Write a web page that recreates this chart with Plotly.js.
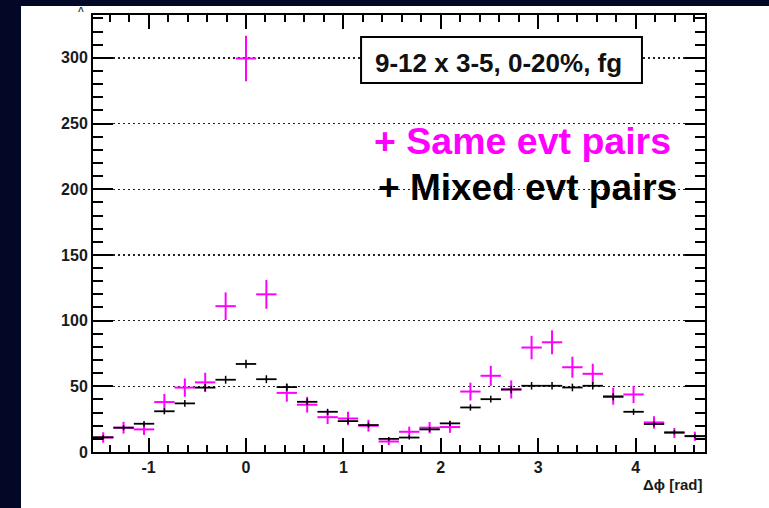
<!DOCTYPE html>
<html>
<head>
<meta charset="utf-8">
<script src="https://cdn.plot.ly/plotly-3.0.1.min.js"></script>
<style>html,body{margin:0;padding:0;background:#020826;width:769px;height:508px;overflow:hidden;}
#chart{position:absolute;left:21px;top:6px;width:748px;height:502px;}</style>
</head>
<body>
<div id="chart"></div>
<script>
// Bin centres in Δφ (rad), 30 bins from -π/2 to 3π/2
const binCenters = [-1.466,-1.257,-1.047,-0.838,-0.628,-0.419,-0.209,0.000,0.209,0.419,
                    0.628,0.838,1.047,1.257,1.466,1.676,1.885,2.094,2.304,2.513,
                    2.723,2.932,3.142,3.351,3.560,3.770,3.979,4.189,4.398,4.608];
const binHalfWidth = 0.1047;

// Same-event pairs (magenta)
const sameEvt    = [11, 18.5, 17.2, 38, 49, 53, 111, 299.5, 120, 45,
                    36, 26.5, 25.5, 20, 8, 15.4, 18.5, 19, 46, 58,
                    47.6, 79.5, 83.5, 64.5, 59.5, 42.5, 43.8, 22.5, 14.5, 12];
const sameErr    = [4, 4.5, 4.2, 6.2, 7, 7.3, 10.5, 17.3, 11, 6.7,
                    6, 5.2, 5.1, 4.5, 2.8, 3.9, 4.3, 4.4, 6.8, 7.6,
                    6.9, 8.9, 9.1, 8, 7.7, 6.5, 6.6, 4.7, 3.8, 3.5];

// Mixed-event pairs (black)
const mixedEvt   = [11.2, 18.5, 21.5, 31, 37, 49, 55, 67, 55.4, 49.4,
                    38.2, 30.6, 23.5, 20.5, 10, 11, 17.2, 21.8, 33.9, 40.2,
                    47.6, 50.4, 50.4, 49.1, 50.4, 42, 30.6, 21.3, 15, 12.1];
const mixedErr   = [1.6, 1.9, 2, 2.3, 2.5, 2.8, 3, 3.3, 3, 2.8,
                    2.5, 2.3, 2, 1.9, 1.4, 1.5, 1.8, 2, 2.4, 2.6,
                    2.8, 2.9, 2.9, 2.9, 2.9, 2.7, 2.3, 1.9, 1.6, 1.4];

const xTickVals = [-1, 0, 1, 2, 3, 4];
const xTickText = ['-1', '0', '1', '2', '3', '4'];
const boxLabel = '9-12 x 3-5, 0-20%, fg';
const legendSame = '+ Same evt pairs';
const legendMixed = '+ Mixed evt pairs';
const xTitle = 'Δϕ [rad]';

const FONT = 'Liberation Sans, Arial, Helvetica, sans-serif';
const MAG = '#ff00ff';

const traces = [
  {
    x: binCenters, y: sameEvt, type: 'scatter', mode: 'markers',
    marker: {size: 1, color: 'rgba(0,0,0,0)'},
    error_y: {type: 'data', array: sameErr, visible: true, color: MAG, thickness: 2, width: 0},
    error_x: {type: 'constant', value: binHalfWidth, visible: true, color: MAG, thickness: 2, width: 0},
    hoverinfo: 'skip', showlegend: false
  },
  {
    x: binCenters, y: mixedEvt, type: 'scatter', mode: 'markers',
    marker: {size: 1, color: 'rgba(0,0,0,0)'},
    error_y: {type: 'data', array: mixedErr, visible: true, color: '#000', thickness: 1.5, width: 0},
    error_x: {type: 'constant', value: binHalfWidth, visible: true, color: '#000', thickness: 1.8, width: 0},
    hoverinfo: 'skip', showlegend: false
  }
];

const layout = {
  width: 748, height: 502,
  margin: {l: 72, r: 64, t: 9, b: 56},
  paper_bgcolor: '#ffffff',
  plot_bgcolor: '#ffffff',
  showlegend: false,
  xaxis: {
    range: [-1.5708, 4.7124],
    tickvals: xTickVals, ticktext: xTickText,
    ticks: 'inside', ticklen: 14, tickwidth: 2, tickcolor: '#000000',
    minor: {dtick: 0.2, tick0: 0, ticks: 'inside', ticklen: 7, tickwidth: 2, tickcolor: '#000000', showgrid: false},
    showline: true, linecolor: '#000', linewidth: 2, mirror: 'ticks',
    showgrid: false, zeroline: false,
    tickfont: {family: FONT, size: 16, color: '#1a1a1a', weight: 'bold'}
  },
  yaxis: {
    range: [0, 332.6],
    dtick: 50, tick0: 0,
    ticks: 'inside', ticklen: 20, tickwidth: 2, tickcolor: '#000000',
    minor: {dtick: 10, ticks: 'inside', ticklen: 10, tickwidth: 2, tickcolor: '#000000', showgrid: false},
    showline: true, linecolor: '#000', linewidth: 2, mirror: 'ticks',
    showgrid: true, gridcolor: '#222', gridwidth: 1.4, griddash: '1.5px,3.5px',
    zeroline: false,
    tickfont: {family: FONT, size: 16, color: '#1a1a1a', weight: 'bold'}
  },
  shapes: [
    {type: 'rect', xref: 'paper', yref: 'paper', x0: 0.438, x1: 0.897, y0: 0.8444, y1: 0.9497,
     fillcolor: '#ffffff', line: {color: '#000', width: 2}, layer: 'above'}
  ],
  annotations: [
    {text: boxLabel, xref: 'paper', yref: 'paper', x: 0.4575, y: 0.8913, xanchor: 'left', yanchor: 'middle',
     showarrow: false, font: {family: FONT, size: 26, color: '#111', weight: 'bold'}},
    {text: legendSame, xref: 'paper', yref: 'paper', x: (372 - 93) / 612, y: (452 - 141) / 437, xanchor: 'left', yanchor: 'middle',
     showarrow: false, font: {family: FONT, size: 37.5, color: MAG, weight: 'bold'}},
    {text: legendMixed, xref: 'paper', yref: 'paper', x: (376 - 93) / 612, y: (452 - 188) / 437, xanchor: 'left', yanchor: 'middle',
     showarrow: false, font: {family: FONT, size: 37, color: '#000', weight: 'bold'}},
    {text: xTitle, xref: 'paper', yref: 'paper', x: 1, y: (452 - 484) / 437, xanchor: 'right', yanchor: 'middle',
     showarrow: false, font: {family: FONT, size: 15, color: '#1a1a1a', weight: 'bold'}},
    {text: '^', xref: 'paper', yref: 'paper', x: (81 - 93) / 612, y: (452 - 12) / 437, xanchor: 'center', yanchor: 'middle',
     showarrow: false, font: {family: FONT, size: 10, color: '#333', weight: 'bold'}}
  ]
};

Plotly.newPlot('chart', traces, layout, {staticPlot: true, displayModeBar: false});
</script>
</body>
</html>
